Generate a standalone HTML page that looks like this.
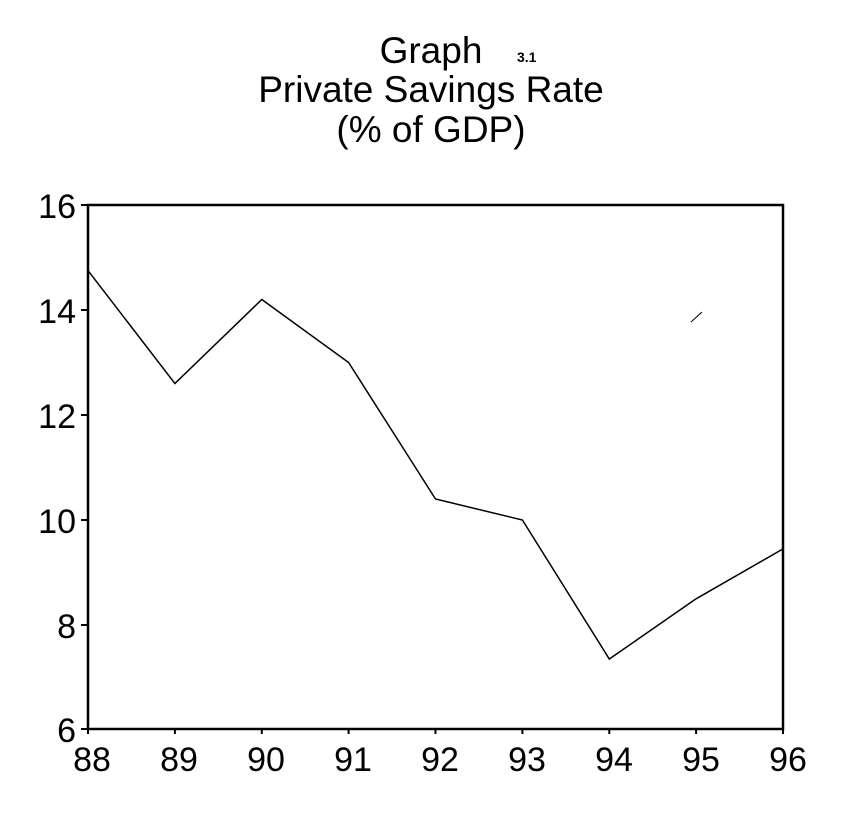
<!DOCTYPE html>
<html><head><style>body{margin:0;background:#fff}</style></head><body>
<svg width="843" height="818" xmlns="http://www.w3.org/2000/svg" font-family="Liberation Sans, Arial, sans-serif" fill="#000">
<text x="431" y="63" font-size="37" text-anchor="middle">Graph</text>
<text x="517" y="62" font-size="14" font-weight="bold">3.1</text>
<text x="431" y="102" font-size="37" text-anchor="middle">Private Savings Rate</text>
<text x="431" y="142" font-size="37" text-anchor="middle">(% of GDP)</text>
<rect x="88" y="205" width="695" height="524" fill="none" stroke="#000" stroke-width="2.5"/>
<g stroke="#000" stroke-width="2">
<line x1="81" y1="205" x2="88" y2="205"/><line x1="81" y1="310" x2="88" y2="310"/><line x1="81" y1="415" x2="88" y2="415"/><line x1="81" y1="520" x2="88" y2="520"/><line x1="81" y1="625" x2="88" y2="625"/><line x1="81" y1="729" x2="88" y2="729"/>
<line x1="88" y1="729" x2="88" y2="734"/><line x1="174.9" y1="729" x2="174.9" y2="734"/><line x1="261.8" y1="729" x2="261.8" y2="734"/><line x1="348.6" y1="729" x2="348.6" y2="734"/><line x1="435.5" y1="729" x2="435.5" y2="734"/><line x1="522.4" y1="729" x2="522.4" y2="734"/><line x1="609.3" y1="729" x2="609.3" y2="734"/><line x1="696.1" y1="729" x2="696.1" y2="734"/><line x1="783" y1="729" x2="783" y2="734"/>
</g>
<polyline fill="none" stroke="#000" stroke-width="1.5" points="88,270.6 174.9,383.5 261.8,299.5 348.6,362.5 435.5,499 522.4,520 609.3,659 696.1,598.8 783,548.9"/>
<g font-size="34" text-anchor="end">
<text x="76" y="218">16</text><text x="76" y="323">14</text><text x="76" y="428">12</text><text x="76" y="533">10</text><text x="76" y="638">8</text><text x="76" y="742">6</text>
</g>
<g font-size="34" text-anchor="middle">
<text x="92" y="771">88</text><text x="179" y="771">89</text><text x="266" y="771">90</text><text x="353" y="771">91</text><text x="440" y="771">92</text><text x="527" y="771">93</text><text x="614" y="771">94</text><text x="701" y="771">95</text><text x="788" y="771">96</text>
</g>
<line x1="691" y1="322" x2="702" y2="312" stroke="#000" stroke-width="1"/>
</svg>
</body></html>
